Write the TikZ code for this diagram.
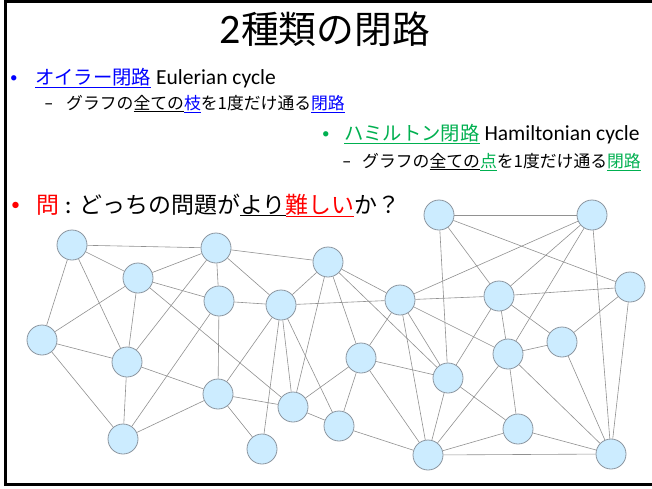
\documentclass[tikz,border=0pt]{standalone}
\usepackage{fontspec}
\setmainfont{Carlito}
\newfontfamily\jp[Scale=0.9]{Noto Sans CJK JP}
\usepackage{xcolor}
\usetikzlibrary{backgrounds}
\definecolor{euler-blue}{RGB}{0,0,255}
\definecolor{hamilton-green}{RGB}{0,176,80}
\definecolor{vertex-fill}{RGB}{204,236,255}
\definecolor{vertex-line}{RGB}{140,150,160}
\definecolor{edge-line}{RGB}{145,145,145}
\tikzset{
    graph-vertex/.style = {circle, draw=vertex-line, fill=vertex-fill, minimum size=30pt, inner sep=0pt, line width=0.8pt},
    graph-edge/.style = {draw=edge-line, line width=0.6pt},
    slide-text/.style = {anchor=base west, inner sep=0pt},
    slide-bullet/.style = {anchor=base west, inner sep=0pt, font=\fontsize{15}{18}\selectfont},
}

\begin{document}
\begin{tikzpicture}[x=1pt, y=-1pt]
\useasboundingbox (0,0) rectangle (652,488);
\draw[line width=3pt] (5,1.5) rectangle (660,484.5);

% title and bullets
\node[anchor=base, inner sep=0pt, font=\fontsize{42}{48}\selectfont] (title) at (325,43) {2{\jp 種類の閉路}};

\node[slide-bullet, text=euler-blue] (bullet-euler) at (10,82) {•};
\node[slide-text, font=\fontsize{21.5}{26}\selectfont] (euler) at (35,84)
    {{\color{euler-blue}\underline{\jp オイラー閉路}} Eulerian cycle};
\node[slide-text, font=\fontsize{18.7}{22}\selectfont] (dash-euler) at (44,109) {–};
\node[slide-text, font=\fontsize{18.7}{22}\selectfont] (euler-def) at (66,109)
    {\jp グラフの\underline{全ての}{\color{euler-blue}\underline{枝}}を1度だけ通る{\color{euler-blue}\underline{閉路}}};

\node[slide-bullet, text=hamilton-green] (bullet-hamilton) at (322,138) {•};
\node[slide-text, font=\fontsize{21.5}{26}\selectfont] (hamilton) at (344,140)
    {{\color{hamilton-green}\underline{\jp ハミルトン閉路}} Hamiltonian cycle};
\node[slide-text, font=\fontsize{18.7}{22}\selectfont] (dash-hamilton) at (342,167) {–};
\node[slide-text, font=\fontsize{18.7}{22}\selectfont] (hamilton-def) at (362,167)
    {\jp グラフの\underline{全ての}{\color{hamilton-green}\underline{点}}を1度だけ通る{\color{hamilton-green}\underline{閉路}}};

\node[slide-bullet, text=red, font=\fontsize{18}{22}\selectfont] (bullet-question) at (11,210) {•};
\node[slide-text, font=\fontsize{25.5}{30}\selectfont] (question) at (36,213)
    {{\color{red}\jp 問} : {\jp どっちの問題が\underline{より}{\color{red}\underline{難しい}}か？}};

% vertices
\node[graph-vertex] (vA) at (72,245) {};
\node[graph-vertex] (vB) at (138,278) {};
\node[graph-vertex] (vC) at (216,248) {};
\node[graph-vertex] (vD) at (219,301) {};
\node[graph-vertex] (vE) at (42,340) {};
\node[graph-vertex] (vF) at (127,362) {};
\node[graph-vertex] (vG) at (218,394) {};
\node[graph-vertex] (vH) at (123,439) {};
\node[graph-vertex] (vI) at (262,449) {};
\node[graph-vertex] (vJ) at (281,305) {};
\node[graph-vertex] (vK) at (328,262) {};
\node[graph-vertex] (vL) at (293,407) {};
\node[graph-vertex] (vM) at (361,358) {};
\node[graph-vertex] (vN) at (339,426) {};
\node[graph-vertex] (vO) at (400,300) {};
\node[graph-vertex] (vP) at (439,215) {};
\node[graph-vertex] (vQ) at (592,215) {};
\node[graph-vertex] (vR) at (499,296) {};
\node[graph-vertex] (vS) at (630,287) {};
\node[graph-vertex] (vT) at (448,378) {};
\node[graph-vertex] (vU) at (508,354) {};
\node[graph-vertex] (vV) at (562,342) {};
\node[graph-vertex] (vW) at (428,455) {};
\node[graph-vertex] (vX) at (518,429) {};
\node[graph-vertex] (vY) at (611,454) {};

% edges
\begin{scope}[on background layer]
\fill[white] (0,0) rectangle (652,488);
\foreach \a/\b in {A/B, A/C, A/E, A/F, B/C, B/D, B/E, B/F, B/L,
    C/D, C/F, C/J, C/K, D/G, D/H, D/J, E/F, E/H, F/G, F/H,
    G/H, G/I, G/J, G/L, I/J, J/K, J/L, J/N, J/O,
    K/L, K/M, K/O, K/T, L/M, L/N, M/N, M/O, M/T, M/W, N/W,
    O/Q, O/R, O/T, O/U, O/W, P/Q, P/R, P/S, P/T,
    Q/R, Q/U, Q/Y, R/S, R/T, R/U, R/V, S/V, S/Y,
    T/W, T/X, U/V, U/W, U/X, U/Y, V/Y, W/X, W/Y, X/Y}
    \draw[graph-edge] (v\a) -- (v\b);
\end{scope}
\end{tikzpicture}
\end{document}
